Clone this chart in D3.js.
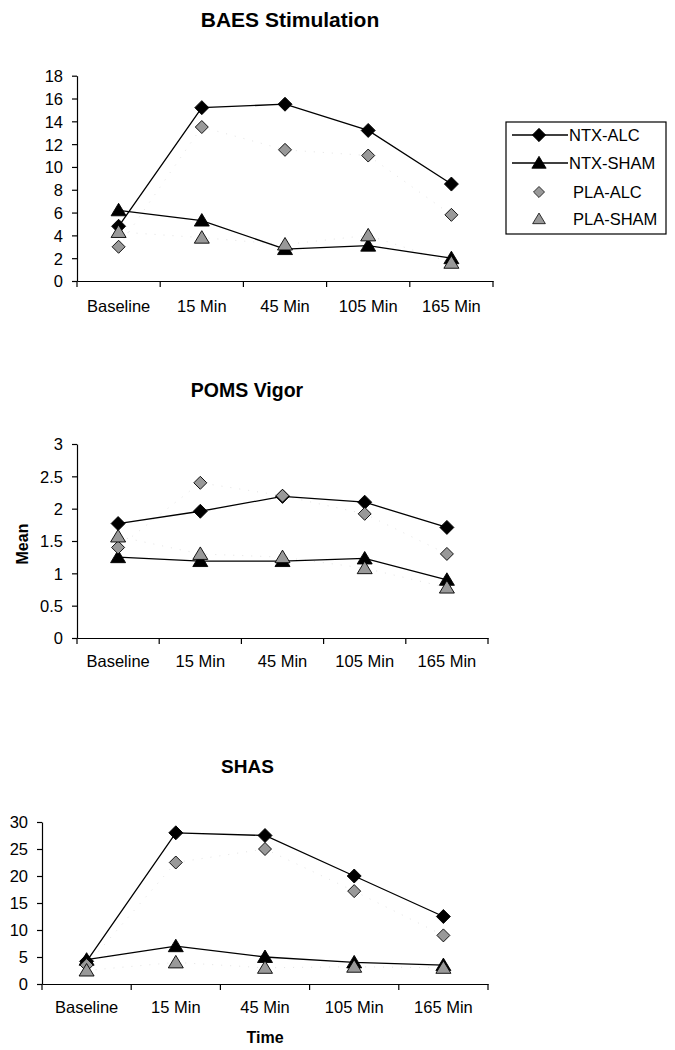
<!DOCTYPE html>
<html><head><meta charset="utf-8">
<script src="https://cdn.jsdelivr.net/npm/d3@7"></script>
<style>
body{margin:0;background:#fff;}
svg{display:block;}
text{font-family:"Liberation Sans",Arial,sans-serif;fill:#000;}
</style></head>
<body>
<svg id="c" width="675" height="1050"></svg>
<script>
const categories = ["Baseline","15 Min","45 Min","105 Min","165 Min"];
const seriesNames = ["NTX-ALC","NTX-SHAM","PLA-ALC","PLA-SHAM"];

// BAES Stimulation
const baesNtxAlc  = [4.8, 15.2, 15.5, 13.2, 8.5];
const baesNtxSham = [6.2, 5.3, 2.8, 3.1, 2.0];
const baesPlaAlc  = [3.0, 13.5, 11.5, 11.0, 5.8];
const baesPlaSham = [4.3, 3.8, 3.2, 4.0, 1.6];
const baesTicks = [0,2,4,6,8,10,12,14,16,18];

// POMS Vigor
const pomsNtxAlc  = [1.77, 1.96, 2.19, 2.10, 1.71];
const pomsNtxSham = [1.25, 1.19, 1.19, 1.23, 0.90];
const pomsPlaAlc  = [1.40, 2.40, 2.20, 1.92, 1.30];
const pomsPlaSham = [1.57, 1.30, 1.25, 1.08, 0.78];
const pomsTicks = [0,0.5,1,1.5,2,2.5,3];

// SHAS
const shasNtxAlc  = [4.2, 28.0, 27.5, 20.0, 12.5];
const shasNtxSham = [4.5, 7.0, 5.0, 4.0, 3.5];
const shasPlaAlc  = [3.5, 22.5, 25.0, 17.2, 9.0];
const shasPlaSham = [2.5, 4.0, 3.0, 3.2, 3.0];
const shasTicks = [0,5,10,15,20,25,30];

const svg = d3.select("#c");

const diamondBig = "M0,-7L7,0L0,7L-7,0Z";
const diamondSmall = "M0,-6.5L6.5,0L0,6.5L-6.5,0Z";
const triangle = "M0,-7L7.5,5.5L-7.5,5.5Z";

const styles = [
  {shape: diamondBig, fill:"#000", stroke:"#000", line:true},
  {shape: triangle,   fill:"#000", stroke:"#000", line:true},
  {shape: diamondSmall, fill:"#999", stroke:"#000", line:false},
  {shape: triangle,   fill:"#999", stroke:"#000", line:false}
];

function panel(cfg){
  const g = svg.append("g");
  const x = d3.scaleBand().domain(categories).range([cfg.x0, cfg.x1]).padding(0);
  const y = d3.scaleLinear().domain([0, cfg.max]).range([cfg.y0, cfg.y1]);

  const ya = d3.axisLeft(y).tickValues(cfg.ticks).tickSize(5).tickSizeOuter(0).tickPadding(9)
     .tickFormat(d3.format("~g"));
  const yg = g.append("g").attr("transform", `translate(${cfg.x0},0)`).call(ya);
  yg.selectAll("text").attr("font-size", 16.5).attr("dy","0.36em");
  yg.select(".domain").attr("stroke","#000").attr("stroke-width",1.2);
  yg.selectAll(".tick line").attr("stroke","#000").attr("stroke-width",1.2);

  const xa = d3.axisBottom(x).tickSize(0).tickSizeOuter(0).tickPadding(cfg.labelPad);
  const xg = g.append("g").attr("transform", `translate(0,${cfg.y0})`).call(xa);
  xg.selectAll("text").attr("font-size", 16.5);
  xg.select(".domain").attr("stroke","#000").attr("stroke-width",1.2);
  const bounds = categories.map(c => x(c)).concat([x(categories[categories.length-1]) + x.bandwidth()]);
  xg.selectAll(".bnd").data(bounds).enter().append("line")
    .attr("x1", d=>d).attr("x2", d=>d).attr("y1",0).attr("y2",6)
    .attr("stroke","#000").attr("stroke-width",1.2);

  const cx = c => x(c) + x.bandwidth()/2;
  const line = d3.line().x((d,i)=>cx(categories[i])).y(d=>y(d));

  cfg.series.forEach((s,k)=>{
    if(!styles[k].line){
      g.append("path").attr("d", line(s)).attr("fill","none")
        .attr("stroke","#e4e4e4").attr("stroke-width",1).attr("stroke-dasharray","1,8");
    }
  });
  cfg.series.forEach((s,k)=>{
    if(styles[k].line){
      g.append("path").attr("d", line(s)).attr("fill","none")
        .attr("stroke","#000").attr("stroke-width",1.3);
    }
  });
  cfg.series.forEach((s,k)=>{
    g.selectAll(null).data(s).enter().append("path")
      .attr("d", styles[k].shape)
      .attr("transform",(d,i)=>`translate(${cx(categories[i])},${y(d)})`)
      .attr("fill", styles[k].fill).attr("stroke", styles[k].stroke).attr("stroke-width",0.9);
  });

  g.append("text").attr("x", cfg.tx).attr("y", cfg.ty).attr("text-anchor","middle")
    .attr("font-weight","bold").attr("font-size", cfg.tsize).text(cfg.title);
}

panel({title:"BAES Stimulation", tx:290, ty:27, tsize:21,
  x0:77, x1:493, y0:281, y1:75.7, max:18, ticks:baesTicks, labelPad:19,
  series:[baesNtxAlc, baesNtxSham, baesPlaAlc, baesPlaSham]});
panel({title:"POMS Vigor", tx:247, ty:397, tsize:19.5,
  x0:77, x1:488, y0:638, y1:444, max:3, ticks:pomsTicks, labelPad:17,
  series:[pomsNtxAlc, pomsNtxSham, pomsPlaAlc, pomsPlaSham]});
panel({title:"SHAS", tx:247.5, ty:773, tsize:19,
  x0:42, x1:488, y0:984, y1:822, max:30, ticks:shasTicks, labelPad:17,
  series:[shasNtxAlc, shasNtxSham, shasPlaAlc, shasPlaSham]});

svg.append("text").attr("transform","translate(28,544) rotate(-90)").attr("text-anchor","middle")
  .attr("font-weight","bold").attr("font-size",16).text("Mean");
svg.append("text").attr("x",265).attr("y",1043).attr("text-anchor","middle")
  .attr("font-weight","bold").attr("font-size",16).text("Time");

const lg = svg.append("g");
lg.append("rect").attr("x",506).attr("y",122).attr("width",160).attr("height",112)
  .attr("fill","#fff").attr("stroke","#000").attr("stroke-width",1.2);
const rowsY = [135, 163, 192, 219];
seriesNames.forEach((n,k)=>{
  const yy = rowsY[k];
  if(styles[k].line){
    lg.append("line").attr("x1",512).attr("x2",568).attr("y1",yy).attr("y2",yy)
      .attr("stroke","#000").attr("stroke-width",1.3);
  }
  const sc = k>=2 ? 0.85 : 0.95;
  lg.append("path").attr("d", styles[k].shape)
    .attr("transform",`translate(539,${yy}) scale(${sc})`)
    .attr("fill",styles[k].fill).attr("stroke",styles[k].stroke).attr("stroke-width",0.9);
  lg.append("text").attr("x", k>=2 ? 573 : 569).attr("y", yy).attr("dy","0.36em")
    .attr("font-size",16.5).text(n);
});
</script>
</body></html>
